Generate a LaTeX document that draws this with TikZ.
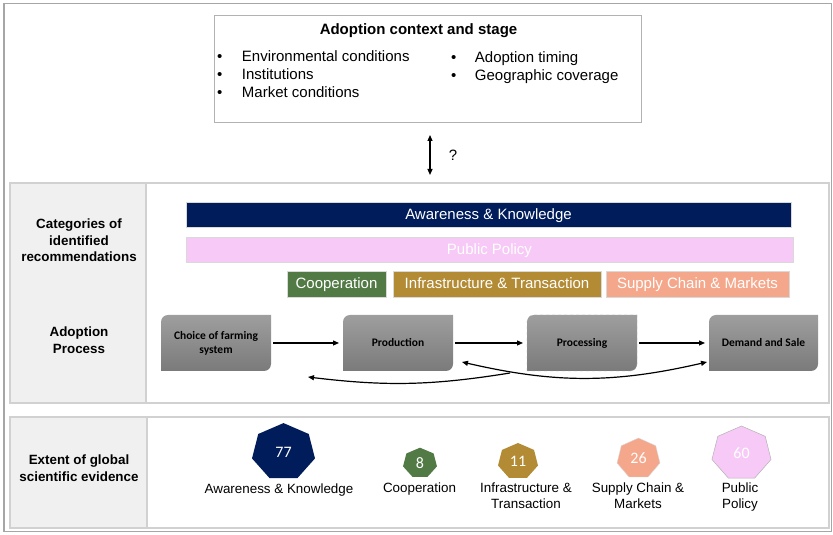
\documentclass[tikz,border=0pt]{standalone}
\usepackage{fontspec}
\setmainfont{Liberation Sans}
\newfontfamily\calibri{Carlito}
\usetikzlibrary{arrows.meta,backgrounds,positioning}
\definecolor{akblue}{HTML}{001C5A}
\definecolor{pppink}{HTML}{F7C9F6}
\definecolor{coopgreen}{HTML}{527A45}
\definecolor{infragold}{HTML}{B38B35}
\definecolor{scmsalmon}{HTML}{F5A78B}
\def\heptagon[#1](#2)(#3:#4){\filldraw[#1,shift={(#2)}] (90:#3 and #4) \foreach \k in {1,...,6}{ -- ({90+\k*360/7}:#3 and #4)} -- cycle;}
\def\procshape[#1](#2){\path[#1] (#2.south west) -- ([yshift=-7pt]#2.north west) arc[start angle=180,end angle=90,radius=7pt] -- (#2.north east) -- ([yshift=7pt]#2.south east) arc[start angle=0,end angle=-90,radius=7pt] -- cycle;}
\tikzset{
	frame/.style={draw=black!35, line width=1.4pt},
	panel/.style={draw=black!18, line width=1.6pt},
	leftcol/.style={fill=black!6},
	ctxbox/.style={draw=black!30, line width=0.8pt, minimum width=427pt, minimum height=107pt, inner sep=0pt},
	bulletlist/.style={inner sep=0pt, font=\fontsize{15}{18}\selectfont},
	rowlabel/.style={align=center, font=\bfseries\fontsize{13.4}{16.6}\selectfont},
	bar/.style={draw=black!15, text=white, minimum height=25pt, inner sep=0pt, text height=11pt, text depth=1pt, font=\fontsize{15}{18}\selectfont},
	procnode/.style={minimum width=110pt, minimum height=56pt, inner sep=0pt, outer sep=0pt, align=center, font=\calibri\bfseries\fontsize{11.5}{14}\selectfont},
	procshade/.style={top color=black!38, bottom color=black!52},
	flow/.style={-{Triangle[length=6pt,width=5pt]}, line width=1.2pt, shorten >=4pt, shorten <=2pt},
	dblarrow/.style={{Triangle[length=6pt,width=5pt]}-{Triangle[length=6pt,width=5pt]}, line width=1.2pt},
	countnum/.style={text=white, font=\calibri\fontsize{16}{18}\selectfont},
	countlabel/.style={align=center, font=\fontsize{13.4}{16}\selectfont}
}
\begin{document}
\begin{tikzpicture}[x=1pt,y=1pt]
	%%%%% START %%%%%
	\useasboundingbox (0,0) rectangle (833,535);
	\draw[frame] (4,3.5) rectangle (831.5,531.5);
	
	% adoption context
	\node[ctxbox] (ctx) at (427.5,466.5) {};
	\node[anchor=base, font=\bfseries\fontsize{15}{18}\selectfont] (ctxtitle) at (418.5,500.5) {Adoption context and stage};
	\node[bulletlist, anchor=base west] (ctxleft) at (217,473.5) {\begin{tabular}[t]{@{}l@{\hspace{19.5pt}}l@{}}\textbullet & Environmental conditions\\ \textbullet & Institutions\\ \textbullet & Market conditions\end{tabular}};
	\node[bulletlist, anchor=base west] (ctxright) at (451,472.5) {\begin{tabular}[t]{@{}l@{\hspace{18.5pt}}l@{}}\textbullet & Adoption timing\\ \textbullet & Geographic coverage\end{tabular}};
	
	\coordinate (qtop) at (430,400);
	\coordinate (qbot) at (430,360);
	\draw[dblarrow] (qtop) -- node[right=15pt, font=\fontsize{15}{18}\selectfont] (qmark) {?} (qbot);
	
	% recommendations and process
	\fill[leftcol] (10,132) rectangle (146,352);
	\draw[panel] (10,132) rectangle (829,352);
	\draw[panel] (146,132) -- (146,352);
	\node[rowlabel] (catlabel) at (79,294.5) {Categories of\\identified\\recommendations};
	\node[rowlabel] (proclabel) at (79,194.5) {Adoption\\Process};
	
	\node[bar, fill=akblue, minimum width=605pt] (ak) at (488.5,320.5) {Awareness \& Knowledge};
	\node[bar, fill=pppink, minimum width=607pt] (pp) at (489.5,285.5) {Public Policy};
	\node[bar, fill=coopgreen, minimum width=99pt, minimum height=26pt] (coop) at (336.5,251) {Cooperation};
	\node[bar, fill=infragold, minimum width=208pt, minimum height=26pt] (infra) at (497,251) {Infrastructure \& Transaction};
	\node[bar, fill=scmsalmon, minimum width=183pt, minimum height=26pt] (scm) at (697.5,251) {Supply Chain \& Markets};
	
	\node[procnode] (choice) at (216,192) {Choice of farming\\system};
	\node[procnode] (prod) at (398,192) {Production};
	\node[procnode] (proc) at (582,192) {Processing};
	\node[procnode, minimum width=109pt] (dem) at (763.5,192) {Demand and Sale};
	\begin{scope}[on background layer]
		\procshape[procshade](choice)
		\procshape[procshade](prod)
		\procshape[procshade, draw=black!35, dashed](proc)
		\procshape[procshade](dem)
	\end{scope}
	
	\draw[flow] (choice) -- (prod);
	\draw[flow] (prod) -- (proc);
	\draw[flow] (proc) -- (dem);
	\draw[flow, shorten >=0pt, shorten <=0pt] ([xshift=-17pt,yshift=-2pt]proc.south west) to[bend left=8] ([xshift=37pt,yshift=-6pt]choice.south east);
	\draw[dblarrow] ([xshift=9pt,yshift=9pt]prod.south east) to[bend right=13] ([xshift=-2pt,yshift=9pt]dem.south west);
	
	% scientific evidence
	\fill[leftcol] (10,7) rectangle (147,118);
	\draw[panel] (10,7) rectangle (829,118);
	\draw[panel] (147,7) -- (147,118);
	\node[rowlabel] (evlabel) at (79,66.5) {Extent of global\\scientific evidence};
	
	\coordinate (hak) at (283.5,83);
	\coordinate (hcoop) at (420,72);
	\coordinate (hinfra) at (518,73.6);
	\coordinate (hscm) at (638.5,76.5);
	\coordinate (hpp) at (741.5,81.6);
	\heptagon[fill=akblue, draw=none](hak)(32.3pt:28.9pt)
	\heptagon[fill=coopgreen, draw=none](hcoop)(17.4pt:15.3pt)
	\heptagon[fill=infragold, draw=none](hinfra)(20.5pt:18.4pt)
	\heptagon[fill=scmsalmon, draw=black!15, line width=0.4pt](hscm)(22pt:20.5pt)
	\heptagon[fill=pppink, draw=black!30, line width=0.5pt](hpp)(30.3pt:27.4pt)
	\node[countnum] (nak) at (hak) {77};
	\node[countnum] (ncoop) at (hcoop) {8};
	\node[countnum] (ninfra) at (hinfra) {11};
	\node[countnum] (nscm) at (hscm) {26};
	\node[countnum] (npp) at (hpp) {60};
	
	\node[countlabel] (lak) at (279,45) {Awareness \& Knowledge};
	\node[countlabel] (lcoop) at (419.5,46) {Cooperation};
	\node[countlabel] (linfra) at (526,39) {Infrastructure \&\\Transaction};
	\node[countlabel] (lscm) at (638,39) {Supply Chain \&\\Markets};
	\node[countlabel] (lpp) at (740,38) {Public\\Policy};
	%%%%% END %%%%%
\end{tikzpicture}
\end{document}
